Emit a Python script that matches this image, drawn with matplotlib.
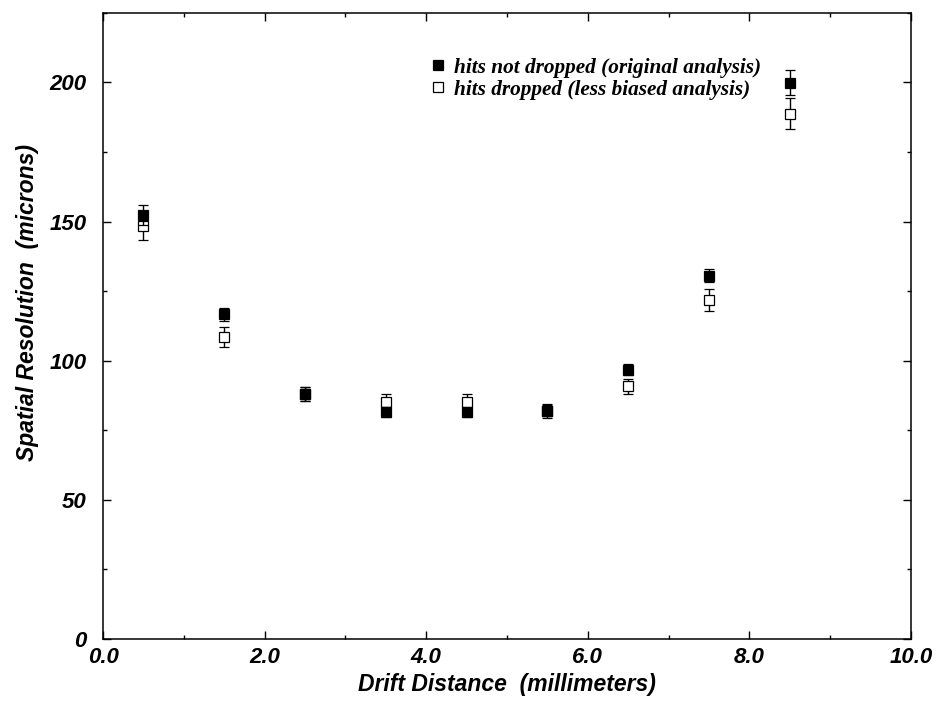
import matplotlib
matplotlib.use("Agg")
import matplotlib.pyplot as plt
from matplotlib.ticker import MultipleLocator, FormatStrFormatter
from matplotlib.lines import Line2D

# Data
drift = [0.5, 1.5, 2.5, 3.5, 4.5, 5.5, 6.5, 7.5, 8.5]
res_orig = [152.2, 116.7, 88.2, 81.7, 81.5, 82.0, 96.8, 130.5, 199.9]
err_orig = [3.6, 2.3, 2.5, 1.8, 1.6, 2.0, 2.0, 2.3, 4.4]
res_drop = [148.4, 108.5, 88.0, 85.3, 85.3, 82.0, 90.9, 121.7, 188.7]
err_drop = [5.0, 3.5, 2.5, 2.6, 2.6, 2.5, 2.7, 3.9, 5.6]

label_orig = "hits not dropped (original analysis)"
label_drop = "hits dropped (less biased analysis)"

fig = plt.figure(figsize=(9.4, 7.04), dpi=100)
ax = fig.add_axes([0.1096, 0.0923, 0.8594, 0.8895])

ax.errorbar(drift, res_drop, yerr=err_drop, fmt='s', ms=6.5, mfc='white',
            mec='black', mew=0.9, ecolor='black', elinewidth=1.0, capsize=3.5,
            capthick=1.0, zorder=2)
ax.errorbar(drift, res_orig, yerr=err_orig, fmt='s', ms=6.5, mfc='black',
            mec='black', mew=0.9, ecolor='black', elinewidth=1.0, capsize=3.5,
            capthick=1.0, zorder=3)

ax.set_xlim(0, 10)
ax.set_ylim(0, 225)
ax.xaxis.set_major_locator(MultipleLocator(2))
ax.xaxis.set_minor_locator(MultipleLocator(1))
ax.yaxis.set_major_locator(MultipleLocator(50))
ax.yaxis.set_minor_locator(MultipleLocator(25))
ax.xaxis.set_major_formatter(FormatStrFormatter('%.1f'))
ax.yaxis.set_major_formatter(FormatStrFormatter('%d'))

ax.tick_params(which='both', direction='in', top=True, right=True, width=1)
ax.tick_params(which='major', length=6)
ax.tick_params(which='minor', length=3)
ax.tick_params(axis='y', which='major', pad=12)
ax.tick_params(axis='x', which='major', pad=6)
for sp in ax.spines.values():
    sp.set_linewidth(1.1)

for lab in ax.get_xticklabels() + ax.get_yticklabels():
    lab.set_fontfamily('Liberation Sans')
    lab.set_fontweight('bold')
    lab.set_fontstyle('italic')
    lab.set_fontsize(16)

ax.set_xlabel("Drift Distance  (millimeters)", fontfamily='Liberation Sans',
              fontweight='bold', fontstyle='italic', fontsize=16.5, labelpad=3)
ax.set_ylabel("Spatial Resolution  (microns)", fontfamily='Liberation Sans',
              fontweight='bold', fontstyle='italic', fontsize=16.5, labelpad=6)
ax.yaxis.set_label_coords(-0.079, 0.538)

h1 = Line2D([], [], marker='s', ls='none', ms=6.5, mfc='black', mec='black', mew=0.9)
h2 = Line2D([], [], marker='s', ls='none', ms=6.5, mfc='white', mec='black', mew=0.9)
ax.legend([h1, h2], [label_orig, label_drop], loc='upper left',
          bbox_to_anchor=(0.383, 0.959), frameon=False, handlelength=0.6,
          handletextpad=0.45, labelspacing=0.1,
          prop=dict(family='Liberation Serif', weight='bold', style='italic', size=15.3))

fig.savefig("out.png", dpi=100)
